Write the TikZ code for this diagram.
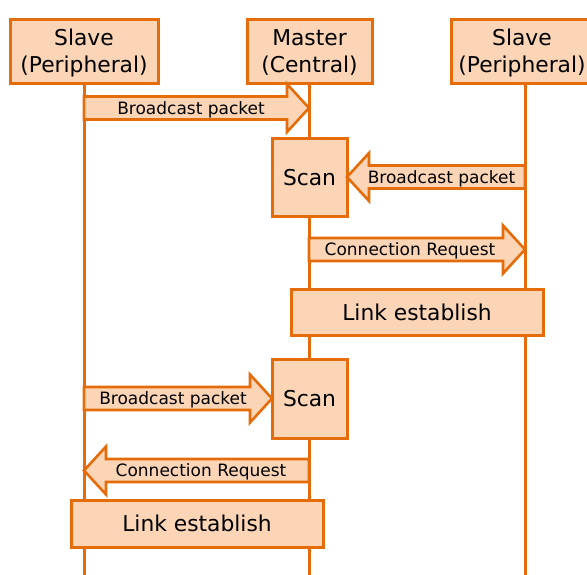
\documentclass[tikz,border=0pt]{standalone}
\usepackage{fontspec}
\setmainfont{DejaVu Sans}
\definecolor{edge}{HTML}{E46C0A}
\definecolor{peach}{HTML}{FBD5B5}
\newcommand\blockarr[3]{% tail x, tip x, centre y
  \pgfmathsetmacro\adir{sign(#2-#1)}%
  \pgfmathsetmacro\hbase{#2-22*\adir}%
  \draw[blockarrow] (#1,#3-11.5) -- (\hbase,#3-11.5) -- (\hbase,#3-24) -- (#2,#3)
    -- (\hbase,#3+24) -- (\hbase,#3+11.5) -- (#1,#3+11.5) -- cycle;}
\begin{document}
\begin{tikzpicture}[x=1pt,y=-1pt,
  box/.style={draw=edge, fill=peach, line width=3pt, inner sep=0pt, rectangle},
  lifeline/.style={draw=edge, line width=3pt},
  blockarrow/.style={draw=edge, fill=peach, line width=2.6pt, line join=miter},
  big/.style={font=\fontsize{21.8}{27}\selectfont, inner sep=0pt, anchor=base},
  small/.style={font=\fontsize{17}{20}\selectfont, inner sep=0pt, anchor=base}]
\clip (0,0) rectangle (587,574);
\fill[white] (0,0) rectangle (587,574);
% lifelines
\coordinate (lb) at (84,580);
\coordinate (mb) at (309,580);
\coordinate (rb) at (525,580);
\coordinate (lt) at (84,51);
\coordinate (mt) at (309,51);
\coordinate (rt) at (525,51);
\draw[lifeline] (lt) -- (lb);
\draw[lifeline] (mt) -- (mb);
\draw[lifeline] (rt) -- (rb);
% headers
\node[box, minimum width=148, minimum height=64] (s1) at (84,51) {};
\node[big] at (84,45.5) {Slave};
\node[big] at (84,72.5) {(Peripheral)};
\node[box, minimum width=125, minimum height=64] (m) at (309.5,51) {};
\node[big] at (309.5,45.5) {Master};
\node[big] at (309.5,72.5) {(Central)};
\node[box, minimum width=148, minimum height=64] (s2) at (525,51) {};
\node[big] at (522,45.5) {Slave};
\node[big] at (522,72.5) {(Peripheral)};
% boxes
\node[box, minimum width=75, minimum height=78] (scan1) at (309.5,177) {};
\node[big] at (309.5,185) {Scan};
\node[box, minimum width=252, minimum height=46] (link1) at (417,312) {};
\node[big] at (417,320) {Link establish};
\node[box, minimum width=75, minimum height=79] (scan2) at (309.5,398.5) {};
\node[big] at (309.5,406.5) {Scan};
\node[box, minimum width=252, minimum height=47] (link2) at (197,523.5) {};
\node[big] at (197,531.5) {Link establish};
% block arrows
\blockarr{84}{309}{108}
\node[small] at (191,114) {Broadcast packet};
\blockarr{525}{347}{177}
\node[small] at (441.5,183) {Broadcast packet};
\blockarr{309}{525}{249.5}
\node[small] at (410,255.5) {Connection Request};
\blockarr{84}{272}{398.5}
\node[small] at (173,404.5) {Broadcast packet};
\blockarr{309}{84}{470.5}
\node[small] at (201,476.5) {Connection Request};
\end{tikzpicture}
\end{document}
